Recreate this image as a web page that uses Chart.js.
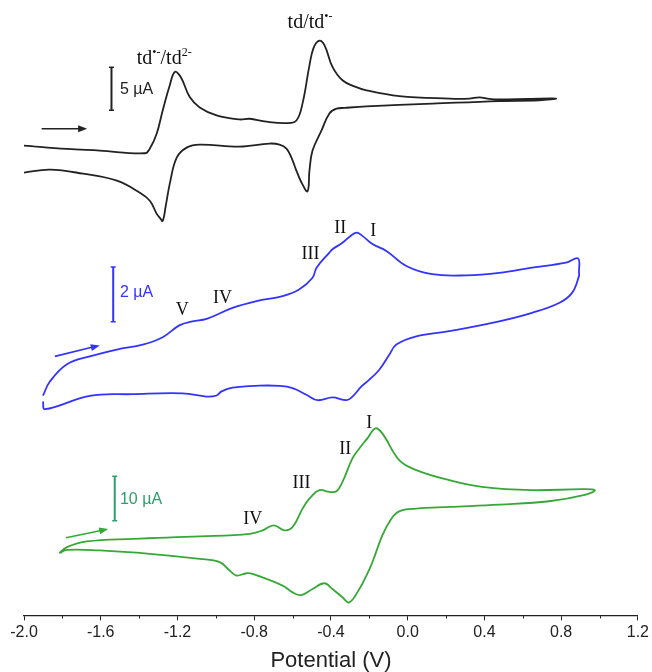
<!DOCTYPE html>
<html>
<head>
<meta charset="utf-8">
<script src="https://cdn.jsdelivr.net/npm/chart.js@4.4.1/dist/chart.umd.min.js"></script>
<style>
  html, body { margin: 0; padding: 0; background: #fff; }
  #wrap { width: 652px; height: 672px; }
</style>
</head>
<body>
<div id="wrap"><canvas id="cvChart"></canvas></div>
<script>
// potential (V) and current (uA)
const blackE = [-2.0, -1.776, -1.605, -1.370, -1.344, -1.308, -1.277, -1.240, -1.214, -1.183, -1.136, -1.084, -0.996, -0.876, -0.824, -0.746, -0.632, -0.580, -0.548, -0.512, -0.491, -0.463, -0.434, -0.392, -0.340, -0.278, -0.215, -0.044, 0.217, 0.321, 0.373, 0.425, 0.477, 0.633, 0.773, 0.685, 0.477, 0.128, -0.215, -0.330, -0.371, -0.408, -0.449, -0.496, -0.512, -0.522, -0.553, -0.580, -0.606, -0.632, -0.668, -0.720, -0.876, -1.084, -1.152, -1.204, -1.240, -1.261, -1.277, -1.292, -1.308, -1.344, -1.396, -1.516, -1.693, -1.865, -2.0];
const blackI = [-5.40, -5.79, -5.99, -6.30, -5.75, -4.00, -1.32, 1.60, 3.15, 2.57, 0.23, -0.97, -1.90, -2.37, -2.29, -2.60, -2.80, -2.49, -0.50, 3.92, 5.92, 6.77, 6.27, 3.73, 2.18, 1.48, 1.02, 0.35, 0.05, 0.05, 0.20, 0.02, -0.04, 0.02, 0.05, -0.15, -0.23, -0.54, -0.85, -1.03, -1.12, -1.67, -3.65, -5.99, -8.32, -10.71, -9.72, -8.32, -6.80, -5.75, -5.29, -5.17, -5.52, -5.29, -5.64, -6.80, -9.83, -12.40, -14.15, -13.80, -13.34, -11.82, -10.89, -9.49, -8.67, -8.20, -8.55];

const blueE = [-1.901, -1.865, -1.776, -1.657, -1.516, -1.381, -1.277, -1.188, -1.121, -1.048, -0.913, -0.788, -0.652, -0.564, -0.496, -0.475, -0.408, -0.392, -0.340, -0.304, -0.267, -0.236, -0.184, -0.111, -0.007, 0.128, 0.305, 0.477, 0.648, 0.825, 0.888, 0.893, 0.893, 0.857, 0.789, 0.648, 0.477, 0.217, 0.045, -0.059, -0.096, -0.148, -0.200, -0.241, -0.288, -0.319, -0.392, -0.470, -0.528, -0.600, -0.668, -0.772, -0.913, -0.970, -0.996, -1.048, -1.173, -1.433, -1.657, -1.891, -1.901];
const blueI = [0.03, 0.54, 1.17, 1.46, 1.71, 1.89, 2.16, 2.60, 2.74, 2.83, 3.23, 3.48, 3.66, 3.91, 4.33, 4.70, 5.25, 5.37, 5.61, 5.82, 5.98, 5.86, 5.56, 5.31, 4.76, 4.46, 4.42, 4.51, 4.70, 4.88, 5.04, 4.50, 4.39, 3.78, 3.41, 3.05, 2.74, 2.38, 2.19, 1.89, 1.52, 0.97, 0.61, 0.36, -0.01, -0.14, -0.04, -0.14, 0.06, 0.30, 0.38, 0.39, 0.32, 0.18, 0.03, -0.01, 0.11, 0.08, 0.02, -0.47, -0.19];

const greenE = [-1.816, -1.776, -1.672, -1.433, -1.084, -0.824, -0.756, -0.698, -0.642, -0.600, -0.548, -0.512, -0.460, -0.408, -0.371, -0.340, -0.288, -0.252, -0.210, -0.168, -0.132, -0.044, 0.045, 0.217, 0.388, 0.648, 0.909, 0.976, 0.929, 0.737, 0.477, 0.217, 0.045, -0.044, -0.085, -0.132, -0.184, -0.215, -0.252, -0.304, -0.340, -0.392, -0.434, -0.496, -0.555, -0.600, -0.652, -0.808, -0.840, -0.892, -0.928, -0.980, -1.084, -1.344, -1.605, -1.776, -1.816];
const greenI = [-6.05, -4.70, -3.42, -2.84, -2.30, -1.71, -0.95, 0.18, -0.95, -0.20, 3.92, 6.17, 8.06, 7.67, 7.83, 9.92, 15.17, 17.42, 19.67, 21.92, 20.79, 14.81, 12.56, 10.31, 8.80, 8.06, 8.28, 8.06, 7.07, 5.58, 4.82, 4.30, 3.92, 3.33, 1.67, -2.07, -8.08, -11.07, -14.08, -17.08, -15.95, -14.08, -12.80, -14.08, -15.44, -14.83, -13.32, -10.71, -10.55, -11.07, -9.95, -8.08, -7.34, -6.21, -5.45, -5.31, -6.05];

// x axis ticks
const xTicks = [-2.0, -1.6, -1.2, -0.8, -0.4, 0.0, 0.4, 0.8, 1.2];
const xMinorTicks = [-1.8, -1.4, -1.0, -0.6, -0.2, 0.2, 0.6, 1.0];

// scale bars: [potential, from, to] in uA of each trace
const blackBar = [-1.544, -1.3, 3.7];
const blueBar = [-1.535, 2.72, 4.72];
const greenBar = [-1.527, 1.2, 11.2];

const BLACK = '#222222';
const BLUE = '#3333ff';
const GREEN = '#36a836';
const TEAL = '#2e9e6e';

const pts = (xs, ys) => xs.map((x, i) => ({ x: x, y: ys[i] }));

function curve(label, xs, ys, color, axis) {
    return {
        label: label,
        data: pts(xs, ys),
        yAxisID: axis,
        showLine: true,
        borderColor: color,
        borderWidth: 1.8,
        pointRadius: 0,
        tension: 0.4,
        fill: false
    };
}
function bar(label, b, color, axis) {
    return {
        label: label,
        data: [{ x: b[0], y: b[1] }, { x: b[0], y: b[2] }],
        yAxisID: axis,
        showLine: true,
        borderColor: color,
        borderWidth: 2,
        pointStyle: 'line',
        pointRadius: 2.5,
        pointBorderColor: color,
        pointBorderWidth: 1.5,
        tension: 0
    };
}

// text and arrows placed in data units of their own trace
const notes = [
    { axis: 'yBlack', x: -1.412, y: 4.05, size: 20, parts: [['td'], ['\u2022-', 1], ['/td'], ['2-', 1]] },
    { axis: 'yBlack', x: -0.626, y: 8.21, size: 20, parts: [['td/td'], ['\u2022-', 1]] },
    { axis: 'yBlue', x: -1.175, y: 3.18, center: true, parts: [['V']] },
    { axis: 'yBlue', x: -0.965, y: 3.62, center: true, parts: [['IV']] },
    { axis: 'yBlue', x: -0.507, y: 5.24, center: true, parts: [['III']] },
    { axis: 'yBlue', x: -0.351, y: 6.19, center: true, parts: [['II']] },
    { axis: 'yBlue', x: -0.179, y: 6.08, center: true, parts: [['I']] },
    { axis: 'yGreen', x: -0.200, y: 23.42, center: true, parts: [['I']] },
    { axis: 'yGreen', x: -0.325, y: 17.57, center: true, parts: [['II']] },
    { axis: 'yGreen', x: -0.553, y: 9.92, center: true, parts: [['III']] },
    { axis: 'yGreen', x: -0.808, y: 1.82, center: true, parts: [['IV']] }
];
const barLabels = [
    { axis: 'yBlack', x: -1.500, y: 1.13, text: '5 \u00b5A', color: BLACK },
    { axis: 'yBlue', x: -1.500, y: 3.78, text: '2 \u00b5A', color: BLUE },
    { axis: 'yGreen', x: -1.500, y: 5.87, text: '10 \u00b5A', color: TEAL }
];
const arrows = [
    { axis: 'yBlack', from: [-1.908, -3.45], to: [-1.671, -3.45], color: BLACK },
    { axis: 'yBlue', from: [-1.839, 1.46], to: [-1.605, 1.86], color: BLUE },
    { axis: 'yGreen', from: [-1.781, -2.61], to: [-1.561, -0.65], color: GREEN }
];

const decorPlugin = {
    id: 'decor',
    afterDraw(chart) {
        const ctx = chart.ctx;
        const sx = chart.scales.x;
        ctx.save();
        // minor ticks
        ctx.strokeStyle = BLACK;
        ctx.lineWidth = 1;
        const yb = chart.chartArea.bottom;
        xMinorTicks.forEach(v => {
            const px = Math.round(sx.getPixelForValue(v)) + 0.5;
            ctx.beginPath();
            ctx.moveTo(px, yb);
            ctx.lineTo(px, yb + 3);
            ctx.stroke();
        });
        // arrows
        arrows.forEach(a => {
            const sy = chart.scales[a.axis];
            const x1 = sx.getPixelForValue(a.from[0]), y1 = sy.getPixelForValue(a.from[1]);
            const x2 = sx.getPixelForValue(a.to[0]), y2 = sy.getPixelForValue(a.to[1]);
            const ang = Math.atan2(y2 - y1, x2 - x1);
            ctx.strokeStyle = a.color;
            ctx.fillStyle = a.color;
            ctx.lineWidth = 1.6;
            ctx.beginPath();
            ctx.moveTo(x1, y1);
            ctx.lineTo(x2 - 6 * Math.cos(ang), y2 - 6 * Math.sin(ang));
            ctx.stroke();
            ctx.beginPath();
            ctx.moveTo(x2, y2);
            ctx.lineTo(x2 - 9 * Math.cos(ang) + 3.5 * Math.sin(ang), y2 - 9 * Math.sin(ang) - 3.5 * Math.cos(ang));
            ctx.lineTo(x2 - 9 * Math.cos(ang) - 3.5 * Math.sin(ang), y2 - 9 * Math.sin(ang) + 3.5 * Math.cos(ang));
            ctx.closePath();
            ctx.fill();
        });
        // scale bar labels
        ctx.font = '16px "Liberation Sans", Arial, sans-serif';
        ctx.textBaseline = 'middle';
        ctx.textAlign = 'left';
        barLabels.forEach(b => {
            ctx.fillStyle = b.color;
            ctx.fillText(b.text, sx.getPixelForValue(b.x), chart.scales[b.axis].getPixelForValue(b.y));
        });
        // serif notes with superscripts
        ctx.fillStyle = '#111';
        notes.forEach(n => {
            const sy = chart.scales[n.axis];
            const size = n.size || 18;
            let x = sx.getPixelForValue(n.x);
            let y = sy.getPixelForValue(n.y);
            const big = size + 'px "Liberation Serif", "Times New Roman", serif';
            const small = Math.round(size * 0.62) + 'px "Liberation Serif", "Times New Roman", serif';
            let w = 0;
            n.parts.forEach(p => { ctx.font = p[1] ? small : big; w += ctx.measureText(p[0]).width; });
            if (n.center) {
                x -= w / 2;
                y += 6;
            }
            ctx.textBaseline = 'alphabetic';
            ctx.textAlign = 'left';
            n.parts.forEach(p => {
                ctx.font = p[1] ? small : big;
                ctx.fillText(p[0], x, p[1] ? y - size * 0.4 : y);
                x += ctx.measureText(p[0]).width;
            });
        });
        ctx.restore();
    }
};

const cvData = {
    datasets: [
        curve('td', blackE, blackI, BLACK, 'yBlack'),
        curve('blue', blueE, blueI, BLUE, 'yBlue'),
        curve('green', greenE, greenI, GREEN, 'yGreen'),
        bar('5 uA', blackBar, BLACK, 'yBlack'),
        bar('2 uA', blueBar, BLUE, 'yBlue'),
        bar('10 uA', greenBar, TEAL, 'yGreen')
    ]
};

const cvConfig = {
    type: 'scatter',
    data: cvData,
    options: {
        responsive: true,
        maintainAspectRatio: false,
        animation: false,
        layout: {
            padding: { top: 13, left: 24, right: 13, bottom: -2 }
        },
        scales: {
            x: {
                type: 'linear',
                min: -2.0,
                max: 1.2,
                afterBuildTicks: axis => { axis.ticks = xTicks.map(v => ({ value: v })); },
                grid: {
                    drawOnChartArea: false,
                    drawTicks: true,
                    tickLength: 5,
                    color: BLACK
                },
                border: { display: true, color: BLACK, width: 1.2 },
                ticks: {
                    color: BLACK,
                    padding: 3,
                    maxRotation: 0,
                    font: { family: '"Liberation Sans", Arial, sans-serif', size: 16 },
                    callback: v => (Math.abs(v) < 1e-9 ? 0 : v).toFixed(1)
                },
                title: {
                    display: true,
                    text: 'Potential (V)',
                    color: BLACK,
                    padding: { top: 2, bottom: 0 },
                    font: { family: '"Liberation Sans", Arial, sans-serif', size: 22 }
                }
            },
            yBlack: { type: 'linear', display: false, min: -60, max: 10 },
            yBlue: { type: 'linear', display: false, min: -8, max: 14 },
            yGreen: { type: 'linear', display: false, min: -20, max: 115 }
        },
        plugins: {
            legend: { display: false },
            tooltip: { enabled: false }
        }
    },
    plugins: [decorPlugin]
};
const cvElement = document.querySelector('#cvChart');
const cvChart = new Chart(cvElement, cvConfig);
</script>
</body>
</html>
